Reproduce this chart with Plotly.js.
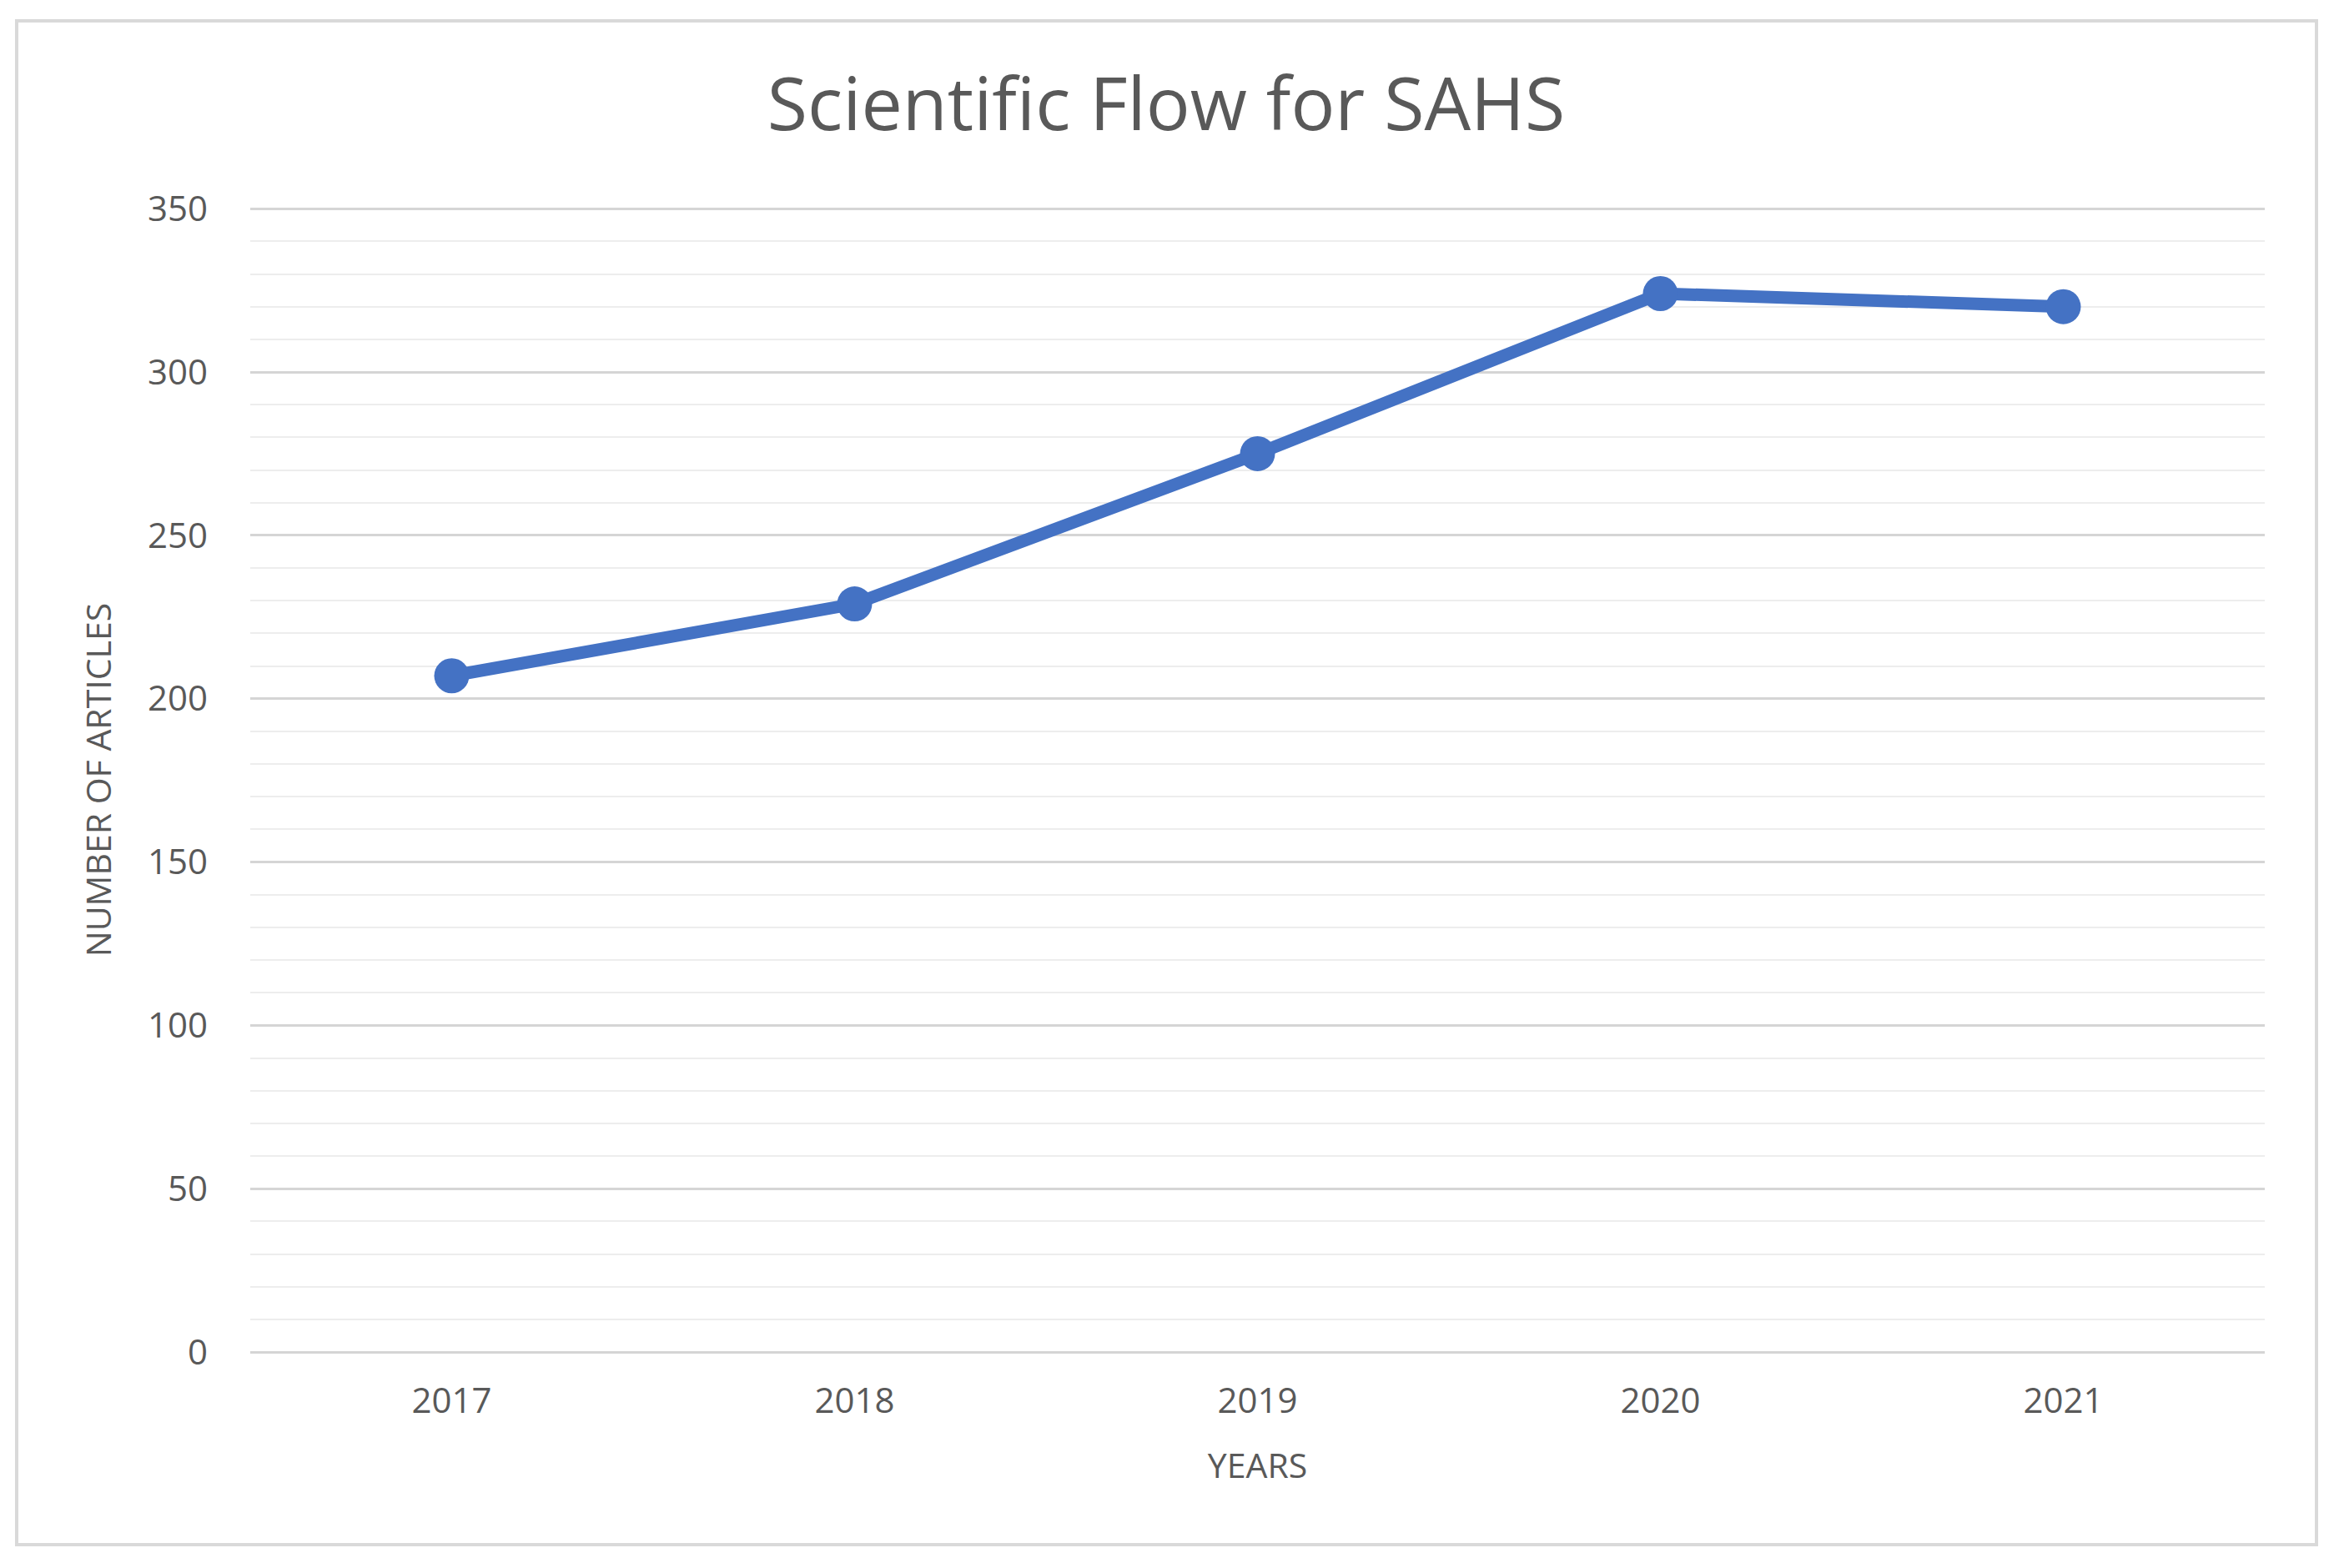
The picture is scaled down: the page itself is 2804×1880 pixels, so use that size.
<!DOCTYPE html>
<html>
<head>
<meta charset="utf-8">
<script src="https://cdn.plot.ly/plotly-3.0.1.min.js"></script>
<style>
  html, body { margin: 0; padding: 0; background: #ffffff; }
  #chart { width: 2804px; height: 1880px; }
</style>
</head>
<body>
<div id="chart"></div>
<script>
// ---- data ----
const years = ["2017", "2018", "2019", "2020", "2021"];
const articles = [207, 229, 275, 324, 320];
const yTickValues = [0, 50, 100, 150, 200, 250, 300, 350];
const chartTitle = "Scientific Flow for SAHS";
const xTitle = "YEARS";
const yTitle = "NUMBER OF ARTICLES";

// ---- layout geometry ----
const W = 2804, H = 1880;
const L = 300, R = 89, T = 249, B = 259;
const plotW = W - L - R, plotH = H - T - B;
const px2x = px => (px - L) / plotW;
const px2y = py => (H - B - py) / plotH;

const textColor = "#595959";
const font = "Open Sans, Noto Sans, sans-serif";

const trace = {
  type: "scatter",
  mode: "lines+markers",
  x: years,
  y: articles,
  line: { color: "#4472C4", width: 15 },
  marker: { color: "#4472C4", size: 42 },
  hoverinfo: "skip",
  cliponaxis: false
};

const layout = {
  width: W,
  height: H,
  margin: { l: L, r: R, t: T, b: B, pad: 0 },
  paper_bgcolor: "#ffffff",
  plot_bgcolor: "#ffffff",
  showlegend: false,
  font: { family: font, color: textColor },
  title: {
    text: chartTitle,
    font: { family: font, size: 88, color: textColor },
    xref: "container", x: 1398 / W, xanchor: "center",
    yref: "container", y: 1 - 125 / H, yanchor: "middle"
  },
  xaxis: {
    type: "category",
    range: [-0.5, years.length - 0.5],
    showgrid: false,
    zeroline: false,
    showline: false,
    ticks: "",
    tickfont: { family: font, size: 42, color: textColor },
    ticklabelstandoff: 30,
    automargin: false,
    title: { text: xTitle, font: { family: font, size: 41, color: textColor }, standoff: 38 }
  },
  yaxis: {
    range: [0, 350.3],
    tickvals: yTickValues,
    showgrid: true,
    gridcolor: "#d5d5d5",
    gridwidth: 3,
    zeroline: true,
    zerolinecolor: "#d5d5d5",
    zerolinewidth: 3,
    showline: false,
    ticks: "",
    tickfont: { family: font, size: 42, color: textColor },
    ticklabelstandoff: 50,
    automargin: false,
    minor: { dtick: 10, showgrid: true, gridcolor: "#ededed", gridwidth: 2, ticks: "" },
    title: { text: yTitle, font: { family: font, size: 41, color: textColor }, standoff: 30 }
  },
  shapes: [{
    type: "rect",
    xref: "paper", yref: "paper",
    x0: px2x(20), x1: px2x(2777),
    y0: px2y(1852), y1: px2y(25),
    line: { color: "#d9d9d9", width: 4 },
    fillcolor: "rgba(0,0,0,0)",
    layer: "below"
  }]
};

Plotly.newPlot("chart", [trace], layout, { staticPlot: true, displayModeBar: false });
</script>
</body>
</html>
